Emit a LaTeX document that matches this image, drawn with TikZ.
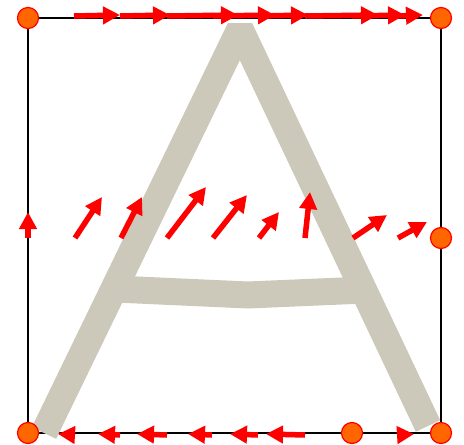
\documentclass[tikz,border=0pt]{standalone}
\usepackage{tikz}
\usetikzlibrary{arrows.meta}

\definecolor{dotorange}{HTML}{FF6600}
\definecolor{letter}{HTML}{CDC9BA}

\begin{document}
\begin{tikzpicture}[x=1pt,y=-1pt]
	
	% 定义样式
	\tikzset{
		vec/.style={
			draw=red, line width=5.5pt,
			-{Triangle[length=17pt,width=17pt]}
		},
		vertex/.style = {
			circle, draw=red, fill=dotorange,
			minimum size = 21pt,
			inner sep=0pt, line width=1.2pt
		},
		glyph/.style={
			draw=letter, line width=27pt
		}
	}
	
	% 参数设置
	\def \ytop {16}
	\def \ymid {238}
	\def \ybot {435}
	
	\useasboundingbox (0,0) rectangle (464,445);
	
	% 外框
	\draw[line width=1.6pt] (28,18) rectangle (441,433);
	
	% 字母 A
	\draw[glyph, line join=bevel] (44,433) -- (240,29) -- (428,426);
	\draw[glyph] (115,289) -- (248,295) -- (365,290);
	
	% 上边的箭头
	\foreach \a/\b in {74/120, 120/170, 167/238, 213/275, 259/308, 305/378, 352/405, 398/423} {
		\draw[vec] (\a,\ytop) -- (\b,\ytop-1);
	}
	
	% 中间一行的箭头
	\foreach \a/\u/\v in {28/28/212, 75/102/197, 121/142/197, 167/206/187, 213/247/195,
		259/279/212, 305/310/192, 353/387/215, 398/427/222} {
		\draw[vec] (\a,\ymid) -- (\u,\v);
	}
	
	% 下边的箭头
	\foreach \a/\b in {75/58, 120/98, 167/137, 212/188, 258/230, 305/266, 398/414} {
		\draw[vec] (\a,\ybot) -- (\b,\ybot-1);
	}
	
	% 顶点
	\node[vertex] (tl) at (28,18) {};
	\node[vertex] (tr) at (441,18) {};
	\node[vertex] (mr) at (441,238) {};
	\node[vertex] (bl) at (28,433) {};
	\node[vertex] (bm) at (352,433) {};
	\node[vertex] (br) at (441,433) {};
	
\end{tikzpicture}
\end{document}
